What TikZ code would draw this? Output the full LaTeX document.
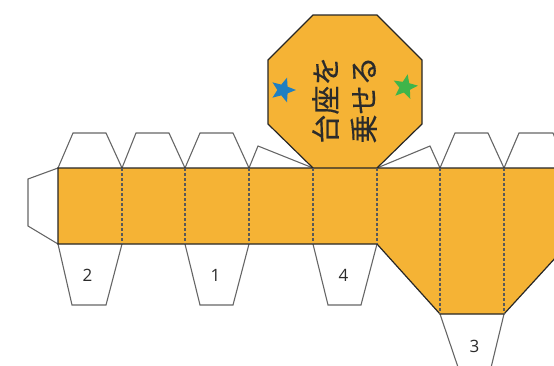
\documentclass[tikz,border=0pt]{standalone}
\usepackage{fontspec}
\setmainfont{Open Sans}
\newfontfamily\jpfont[FakeBold=0.35]{Noto Sans CJK JP}
\usetikzlibrary{
    shapes.geometric
}
\definecolor{baseorange}{HTML}{F5B335}
\definecolor{starblue}{HTML}{1F7FC1}
\definecolor{stargreen}{HTML}{3FB54A}
\definecolor{tabgray}{HTML}{666666}
\definecolor{inkdark}{HTML}{2B2B2B}

\begin{document}
\begin{tikzpicture}[
  x=1pt, y=-1pt,
  panel/.style    = {fill=baseorange, draw=black!85, line width=1.2pt, line join=miter},
  tabflap/.style  = {draw=tabgray, line width=1.1pt, fill=white, line join=miter},
  foldline/.style = {draw=black!65, line width=1.1pt, dash pattern=on 3pt off 2pt},
  tabnum/.style   = {font=\fontsize{17}{19}\selectfont, text=inkdark, inner sep=0pt},
  starmark/.style = {star, star points=5, star point ratio=2.3, minimum size=26pt,
                     inner sep=0pt, draw=none}
]
\useasboundingbox (0,0) rectangle (554,365);
\clip (0,0) rectangle (554,365);

% Top tabs
\foreach \xa/\xb/\xc/\xd in {58/73/106/122, 122/136/169/185, 185/200/233/249, 440/455/488/504, 504/519/553/567}
  \draw[tabflap] (\xa,168) -- (\xb,133) -- (\xc,133) -- (\xd,168);
\draw[tabflap] (249,168) -- (258,146) -- (313,168);
\draw[tabflap] (377,168) -- (430,146) -- (440,168);

% Side tab
\draw[tabflap] (58,168) -- (28,179) -- (28,226) -- (58,244);

% Bottom tabs
\foreach \xa/\xb/\xc/\xd in {58/72/106/122, 185/200/233/249, 313/328/361/377}
  \draw[tabflap] (\xa,244) -- (\xb,305) -- (\xc,305) -- (\xd,244);
\draw[tabflap] (440,314) -- (461,376) -- (489,376) -- (504,314);

% Lid and body
\draw[panel] (313,168) -- (268,124) -- (268,60) -- (313,15) -- (377,15) -- (422,60) -- (422,124) -- (377,168);
\draw[panel] (58,168) -- (568,168) -- (568,244) -- (504,314) -- (440,314) -- (377,244) -- (58,244) -- cycle;

% Fold lines
\foreach \x in {122,185,249,313,377}
  \draw[foldline] (\x,168) -- (\x,244);
\draw[foldline] (440,168) -- (440,314);
\draw[foldline] (504,168) -- (504,314);

% Stars
\node[starmark, fill=starblue, shape border rotate=-90] (bluestar) at (283,90) {};
\node[starmark, fill=stargreen, shape border rotate=-84] (greenstar) at (405,87) {};

% Lid text
\node[rotate=90, align=left, inner sep=0pt, text=inkdark, font=\jpfont\fontsize{29}{38}\selectfont] (lidtext) at (344.5,100) {台座を\\乗せる};

% Tab numbers
\node[tabnum] (num2) at (87.5,275) {2};
\node[tabnum] (num1) at (215.5,275) {1};
\node[tabnum] (num4) at (343.5,275) {4};
\node[tabnum] (num3) at (474.5,346) {3};
\end{tikzpicture}
\end{document}
